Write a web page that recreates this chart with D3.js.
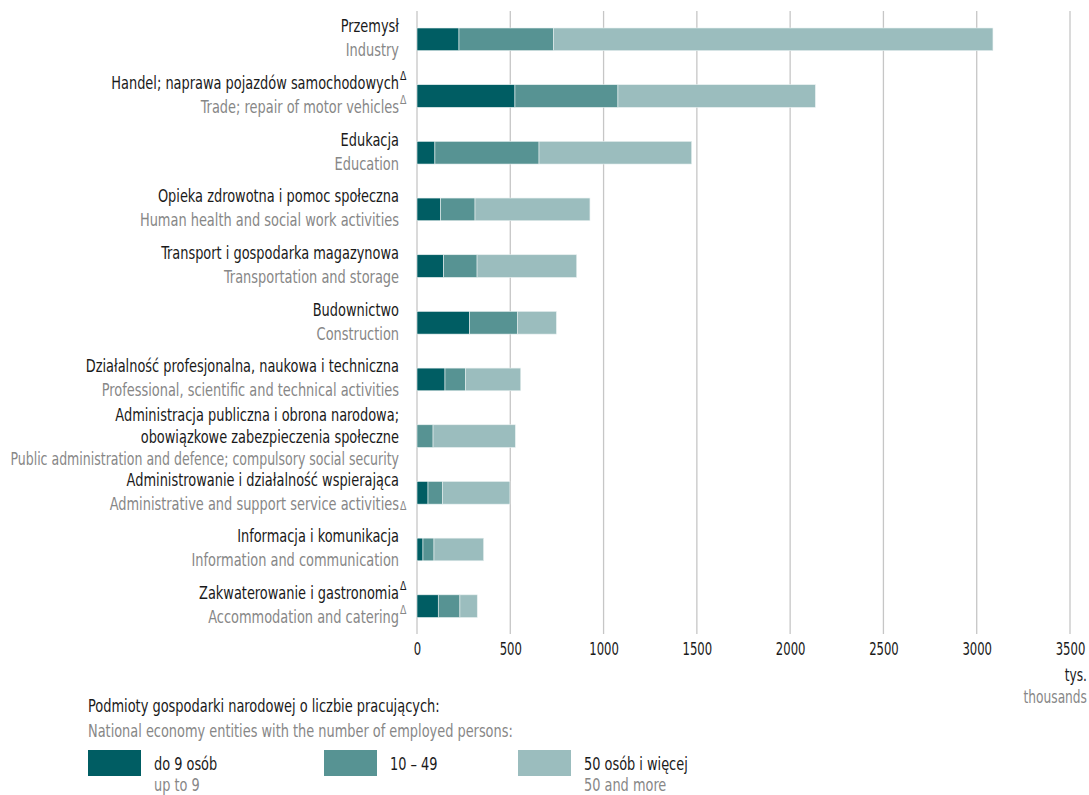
<!DOCTYPE html>
<html>
<head>
<meta charset="utf-8">
<script src="https://cdn.jsdelivr.net/npm/d3@7"></script>
<style>
  body { margin: 0; background: #fff; }
  svg text { font-family: "DejaVu Sans Condensed", "DejaVu Sans", sans-serif; }
  .pl { fill: #1a1a1a; }
  .en { fill: #878787; }
</style>
</head>
<body>
<div id="wykres"></div>
<script>
// dane (tys.)
const kategoriePL = [
  ["Przemysł"],
  ["Handel; naprawa pojazdów samochodowych"],
  ["Edukacja"],
  ["Opieka zdrowotna i pomoc społeczna"],
  ["Transport i gospodarka magazynowa"],
  ["Budownictwo"],
  ["Działalność profesjonalna, naukowa i techniczna"],
  ["Administracja publiczna i obrona narodowa;", "obowiązkowe zabezpieczenia społeczne"],
  ["Administrowanie i działalność wspierająca"],
  ["Informacja i komunikacja"],
  ["Zakwaterowanie i gastronomia"]
]
const kategorieEN = [
  "Industry",
  "Trade; repair of motor vehicles",
  "Education",
  "Human health and social work activities",
  "Transportation and storage",
  "Construction",
  "Professional, scientific and technical activities",
  "Public administration and defence; compulsory social security",
  "Administrative and support service activities",
  "Information and communication",
  "Accommodation and catering"
]
// znacznik Δ: [przy PL, przy EN]
const delta = [
  [false, false], [true, true], [false, false], [false, false], [false, false],
  [false, false], [false, false], [false, false], [false, true], [false, false], [true, true]
]
const do9 = [225, 525, 96, 127, 143, 282, 150, 0, 59, 32, 114]
const od10do49 = [506, 552, 558, 184, 179, 256, 111, 86, 77, 59, 116]
const od50 = [2356, 1058, 818, 616, 534, 209, 295, 441, 362, 266, 93]
const ticks = [0, 500, 1000, 1500, 2000, 2500, 3000, 3500]
const serie = ["do9", "od10do49", "od50"]
const kolory = ["#005d63", "#579393", "#9bbdbe"]
const legendaPL = ["do 9 osób", "10 – 49", "50 osób i więcej"]
const legendaEN = ["up to 9", "", "50 and more"]

const dataset = kategorieEN.map((k, i) => ({
  i, do9: do9[i], od10do49: od10do49[i], od50: od50[i]
}))

const dim = { sirina: 1089, visina: 795, x0: 417, x1: 1070, y0: 11, y1: 634 }
const sx = 0.8 // zwezenie czcionki

const svg = d3.select("#wykres").append("svg")
  .attr("width", dim.sirina).attr("height", dim.visina)

// tekst zwezony poziomo (opcjonalnie z maks. szerokoscia)
function tekst(g, x, y, t, klasa, rozmiar, kotwica, skala, maks) {
  const el = g.append("text").attr("class", klasa)
    .attr("font-size", rozmiar).attr("text-anchor", kotwica || "start")
    .text(t)
  let s = skala || sx
  if (maks) s = Math.min(s, maks / el.node().getComputedTextLength())
  el.attr("transform", `translate(${x},${y}) scale(${s},1)`)
  return el
}

const xSkala = d3.scaleLinear().domain([0, 3500]).range([dim.x0, dim.x1])
const ySkala = d3.scaleBand().domain(d3.range(11)).range([11, 634.5])
  .paddingInner(0.6).paddingOuter(0.3)

// siatka
const siatka = svg.append("g")
siatka.selectAll("line").data(ticks).join("line")
  .attr("x1", d => xSkala(d)).attr("x2", d => xSkala(d))
  .attr("y1", dim.y0).attr("y2", dim.y1)
  .attr("stroke", "#c6c6c6").attr("stroke-width", 1.3)

// os X
const xOs = svg.append("g")
  .attr("transform", `translate(0,${dim.y1})`)
  .call(d3.axisBottom(xSkala).tickValues(ticks).tickSize(0).tickPadding(9).tickFormat(d3.format("d")))
xOs.select(".domain").remove()
xOs.selectAll(".tick text")
  .attr("font-size", 17.5).attr("fill", "#1a1a1a")
  .attr("transform", "scale(0.74,1)")
  .style("font-family", "'DejaVu Sans Condensed', sans-serif")

tekst(svg, 1087, 681, "tys.", "pl", 17, "end")
tekst(svg, 1087, 703, "thousands", "en", 17, "end")

// slupki
const stos = d3.stack().keys(serie)(dataset)
svg.append("g").selectAll("g").data(stos).join("g")
  .attr("fill", (d, i) => kolory[i])
  .selectAll("rect").data(d => d).join("rect")
    .attr("x", d => xSkala(d[0]))
    .attr("width", d => Math.max(0, xSkala(d[1]) - xSkala(d[0])))
    .attr("y", d => ySkala(d.data.i))
    .attr("height", ySkala.bandwidth())
    .attr("stroke", "#e8f0f0").attr("stroke-width", 0.6)

// etykiety kategorii
const etyX = 399
const etykiety = svg.append("g")
dataset.forEach(d => {
  const c = ySkala(d.i) + ySkala.bandwidth() / 2
  const linie = kategoriePL[d.i]
  const start = linie.length === 2 ? c - 21 : c - 13
  linie.forEach((t, j) => {
    tekst(etykiety, etyX, start + j * 22 + 6, t, "pl", 18, "end", sx, 389)
  })
  if (delta[d.i][0]) {
    tekst(etykiety, etyX + 1, start - 3, "Δ", "pl", 13, "start")
  }
  const yEN = linie.length === 2 ? c + 23 : c + 11
  tekst(etykiety, etyX, yEN + 6, kategorieEN[d.i], "en", 18, "end", sx, 389)
  if (delta[d.i][1]) {
    const dy = d.i === 8 ? yEN + 6 : yEN - 3
    tekst(etykiety, etyX + 1, dy, "Δ", "en", 13, "start")
  }
})

// legenda
const leg = svg.append("g")
tekst(leg, 88, 712, "Podmioty gospodarki narodowej o liczbie pracujących:", "pl", 17.5, "start", 1, 352)
tekst(leg, 88, 737, "National economy entities with the number of employed persons:", "en", 17.5, "start", 1, 425)
const legX = [88, 324, 518]
serie.forEach((s, i) => {
  leg.append("rect").attr("x", legX[i]).attr("y", 750).attr("width", 53).attr("height", 26)
    .attr("fill", kolory[i])
  tekst(leg, legX[i] + 66, 770, legendaPL[i], "pl", 17.5, "start", 0.82)
  if (legendaEN[i]) tekst(leg, legX[i] + 66, 791, legendaEN[i], "en", 17.5, "start", 0.82)
})
</script>
</body>
</html>
